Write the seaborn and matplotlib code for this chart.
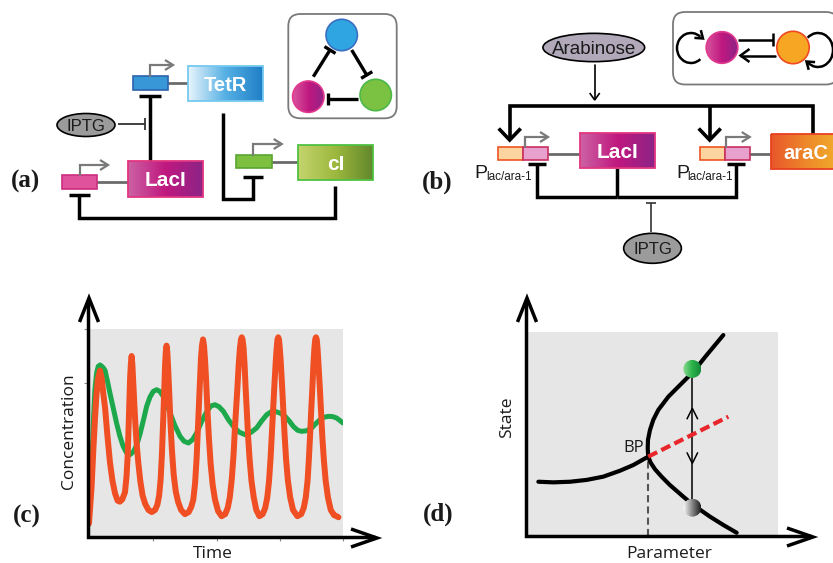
import numpy as np
import pandas as pd
import matplotlib
matplotlib.use("Agg")
import matplotlib.pyplot as plt
import seaborn as sns
from matplotlib.colors import LinearSegmentedColormap
from matplotlib.patches import Arc, Circle, Ellipse, FancyBboxPatch, Rectangle

# ---- panel (c): oscillations (time, concentration in % of the box) ----
time_red = [0.4, 1.4, 2.1, 2.7, 3.3, 3.9, 4.7, 5.4, 6.0, 6.7, 7.6, 8.6, 9.6, 10.6, 11.6,
            12.5, 13.4, 14.5, 15.1, 15.6, 15.9, 16.2, 16.5, 16.8, 17.1, 17.4, 17.7, 18.0,
            18.5, 19.0, 19.7, 20.5, 21.4, 22.4, 23.7, 25.0, 26.3, 27.2, 27.9, 28.5, 29.0,
            29.5, 29.9, 30.2, 30.5, 30.8, 31.1, 31.4, 31.8, 32.3, 32.9, 33.6, 34.4, 35.3,
            36.5, 38.0, 39.5, 40.5, 41.3, 42.0, 42.6, 43.1, 43.6, 44.0, 44.3, 44.7, 45.1,
            45.5, 45.9, 46.3, 46.8, 47.4, 48.1, 48.9, 49.8, 51.0, 52.4, 53.8, 54.8, 55.6,
            56.4, 57.1, 57.6, 58.1, 58.6, 59.1, 59.6, 60.0, 60.3, 60.6, 61.0, 61.4, 61.8,
            62.3, 62.8, 63.4, 64.1, 65.0, 66.0, 67.2, 68.5, 69.5, 70.3, 71.0, 71.6, 72.1,
            72.6, 73.1, 73.6, 74.0, 74.3, 74.6, 74.9, 75.2, 75.6, 76.1, 76.6, 77.1, 77.7,
            78.4, 79.3, 80.4, 82.1, 83.6, 84.6, 85.4, 86.1, 86.6, 87.1, 87.5, 88.0, 88.4,
            88.8, 89.1, 89.4, 89.7, 90.0, 90.4, 90.9, 91.4, 91.9, 92.5, 93.2, 94.1, 95.2,
            96.5, 97.5, 98.2]
conc_red = [6.6, 24, 42, 56, 68, 76, 80, 76, 69, 62, 49, 36, 27, 21, 17.5,
            17, 18, 21.5, 29, 40, 52, 64, 76, 83, 87, 83, 76, 68,
            56, 46, 36, 27, 20, 16, 13, 12, 13, 15.5, 20, 28, 40,
            56, 70, 82, 89, 92, 89, 82, 71, 56, 42, 30, 22, 17,
            13, 11, 12, 14.5, 18, 26, 38, 52, 66, 78, 86, 92, 95,
            92, 85, 76, 62, 48, 35, 25, 18, 12.5, 10, 11, 14, 19,
            28, 40, 52, 62, 72, 83, 91, 95, 96, 95, 91, 83, 72,
            60, 48, 37, 27, 19, 13, 10, 11, 14, 19, 27, 38, 50,
            62, 73, 84, 91, 95, 96, 95, 91, 84, 73, 61, 49, 37,
            27, 19, 13, 10, 11, 14, 19, 27, 37, 49, 60, 72, 83,
            91, 95, 96, 95, 91, 83, 72, 60, 48, 37, 27, 19, 13,
            10.5, 10, 9.5]
time_green = [0.2, 0.8, 1.3, 1.8, 2.2, 2.7, 3.4, 4.0, 4.7, 5.5, 6.2, 6.7, 7.6, 8.6, 9.9,
              11.2, 12.5, 13.8, 15.1, 16.5, 17.8, 19.1, 20.4, 21.7, 23.0, 24.3, 25.6, 26.9,
              28.2, 29.5, 30.8, 32.2, 34.1, 36.1, 37.7, 39.4, 41.0, 42.6, 44.6, 46.6, 48.2,
              49.8, 51.4, 53.1, 55.0, 57.0, 59.3, 61.6, 63.9, 66.1, 68.1, 70.1, 71.7, 73.3,
              75.3, 77.3, 78.9, 80.5, 82.2, 83.8, 85.8, 87.7, 89.4, 91.0, 92.6, 94.2, 95.9,
              97.5, 98.8, 100.0]
conc_green = [5.8, 20, 33, 43.4, 58, 70.7, 79, 82, 82.7, 82, 81, 80, 75, 69.2, 62,
              54.8, 48.5, 43.6, 40.5, 39.6, 41, 44.2, 49.5, 56, 62.8, 67.3, 70, 70.8,
              70, 67.6, 64, 59.6, 53.5, 48.4, 46, 45.2, 46.8, 50, 55.6, 60.4, 63,
              63.6, 62.6, 60.4, 56.5, 53.2, 50.4, 49.2, 50.3, 52.4, 55.8, 58.8, 60.1, 60.4,
              59.6, 58, 55.8, 53.2, 51.3, 50.8, 51.1, 52.4, 54.6, 56.4, 57.6, 58, 57.9,
              57.2, 56, 54.8]
time_ticks = [25.5, 50.6, 75.3, 100]
conc_ticks = [74, 100]

# ---- panel (d): bifurcation diagram ----
par_left = [4.9, 10.8, 17.5, 24.1, 30.7, 37.3, 42.6, 48.5]
state_left = [26.6, 26.3, 26.6, 27.5, 29.1, 32.0, 34.8, 38.9]
par_fold = [78.3, 71.7, 66.4, 61.1, 56.5, 52.5, 50.5, 49.2, 48.4, 48.3, 48.5,
            49.5, 51.2, 53.8, 57.1, 62.4, 66.4, 73.0, 78.3, 83.6]
state_fold = [98.5, 88.7, 80.5, 74.0, 68.3, 61.8, 56.9, 52.0, 47.1, 43.0, 38.9,
              35.9, 32.7, 29.1, 25.0, 19.3, 15.2, 9.5, 5.4, 1.6]
unstable_par = [48.5, 80.3]
unstable_state = [38.9, 58.5]
bp_par, bp_state = 48.5, 38.9
switch_par = 66.0
high_state, low_state = 81.9, 13.9
arrow_up_state, arrow_down_state = 62.6, 35.6

W, H = 833, 563
SANS = ["Liberation Sans", "DejaVu Sans"]
SERIF = ["Liberation Serif", "DejaVu Serif"]

sns.set_theme(style="white")
plt.rcParams["font.family"] = ["Open Sans", "DejaVu Sans"]

fig = plt.figure(figsize=(W / 100, H / 100), dpi=100)
ax_c = fig.add_axes([88 / W, 1 - 537 / H, 255 / W, 208 / H])
ax_d = fig.add_axes([526 / W, 1 - 536 / H, 252 / W, 204 / H])
dia = fig.add_axes([0, 0, 1, 1], zorder=5)
dia.patch.set_alpha(0)
dia.axis("off")


def to_px(ax, x, y):
    dx, dy = ax.transData.transform((x, y))
    return dx, H - dy


def chevron(ax, tip, direction, length, half, lw, color="black", z=6):
    dx, dy = direction
    n = np.hypot(dx, dy)
    dx, dy = dx / n, dy / n
    px, py = -dy, dx
    tx, ty = tip
    bx, by = tx - dx * length, ty - dy * length
    ax.plot([bx + px * half, tx, bx - px * half], [by + py * half, ty, by - py * half],
            color=color, lw=lw, solid_joinstyle="miter", solid_capstyle="butt", zorder=z)


def tline(ax, xs, ys, half, lw, color="black", z=3):
    ax.plot(xs, ys, color=color, lw=lw, solid_joinstyle="miter", solid_capstyle="butt", zorder=z)
    dx, dy = xs[-1] - xs[-2], ys[-1] - ys[-2]
    n = np.hypot(dx, dy)
    px, py = -dy / n, dx / n
    ax.plot([xs[-1] + px * half, xs[-1] - px * half], [ys[-1] + py * half, ys[-1] - py * half],
            color=color, lw=lw, solid_capstyle="butt", zorder=z)


def gradient(ax, clip, colors, extent, z):
    cmap = LinearSegmentedColormap.from_list("g", colors)
    im = ax.imshow(np.linspace(0, 1, 256)[None, :], cmap=cmap, extent=extent,
                   aspect="auto", interpolation="bilinear", zorder=z)
    im.set_clip_path(clip)


def gene_box(ax, x0, y0, x1, y1, colors, edge, label, fs=15, tx=None):
    rect = Rectangle((x0, y0), x1 - x0, y1 - y0, facecolor="none", edgecolor=edge, lw=1.3, zorder=4)
    ax.add_patch(rect)
    gradient(ax, rect, colors, (x0, x1, y1, y0), 3)
    ax.text((x0 + x1) / 2 if tx is None else tx, (y0 + y1) / 2, label, color="white",
            fontweight="bold", fontsize=fs, ha="center", va="center_baseline",
            family=SANS, zorder=5)


def grad_circle(ax, cx, cy, r, colors, edge, lw=1.2, z=5):
    circ = Circle((cx, cy), r, facecolor="none", edgecolor=edge, lw=lw, zorder=z + 0.2)
    ax.add_patch(circ)
    gradient(ax, circ, colors, (cx - r, cx + r, cy + r, cy - r), z)


def promoter(ax, x0, y0, x1, y1, face, edge):
    ax.add_patch(Rectangle((x0, y0), x1 - x0, y1 - y0, facecolor=face, edgecolor=edge, lw=1.2, zorder=4))


def bent(ax, x, ybase, ytop, xend, color="#7a7a7a"):
    ax.plot([x, x, xend - 1], [ybase, ytop, ytop], color=color, lw=1.6,
            solid_joinstyle="miter", zorder=4)
    chevron(ax, (xend, ytop), (1, 0), 8, 5, 1.6, color=color, z=4)


def link(ax, x0, x1, y):
    ax.plot([x0, x1], [y, y], color="#6b6b6b", lw=2.0, zorder=2)


def pill(ax, cx, cy, w, h, face, label, fs):
    ax.add_patch(Ellipse((cx, cy), w, h, facecolor=face, edgecolor="black", lw=1.2, zorder=4))
    ax.text(cx, cy, label, fontsize=fs, ha="center", va="center_baseline", color="#1a1a1a",
            family=SANS, zorder=5)


LACI = ["#cc62a4", "#c0187f", "#8c2487"]
PINK_BALL = ["#d8559e", "#c0187f", "#8c2487"]

# ---------------- panel (a) ----------------
promoter(dia, 61.7, 175, 97.3, 189, "#e0529b", "#cc2f80")
bent(dia, 80, 175, 165, 108)
link(dia, 97.3, 128.3, 181.7)
gene_box(dia, 128.3, 161, 203.3, 196.7, LACI, "#e2357f", "LacI")
tline(dia, [150, 150], [161, 96], 10.8, 2.5)

promoter(dia, 133.3, 76, 168.3, 90, "#3897d6", "#2b63ad")
bent(dia, 150, 76, 65, 173)
link(dia, 168.3, 188.3, 82.7)
gene_box(dia, 188.3, 65.7, 263.3, 101, ["#eaf5fc", "#56b0e4", "#1f7fc6"], "#74c9f0", "TetR", 14.5)

pill(dia, 86, 125, 58, 23, "#9b9b9b", "IPTG", 12)
tline(dia, [118.3, 145], [124, 124], 6, 1.3, color="#333333")

tline(dia, [223.3, 223.3, 253.3, 253.3], [112.7, 199.3, 199.3, 176.7], 10, 2.5)
promoter(dia, 236, 155, 271.7, 168.3, "#7dbf3f", "#5aa532")
bent(dia, 253.3, 155, 144, 281.7)
link(dia, 271.7, 298.3, 161.7)
gene_box(dia, 298.3, 145, 372.7, 180, ["#c5d46e", "#9cb83e", "#62882c"], "#4fc143", "cI")
tline(dia, [335, 335, 79.3, 79.3], [186, 218.3, 218.3, 195], 10.3, 2.5)

# inset (a): repressilator
dia.add_patch(FancyBboxPatch((288.3, 14), 108.4, 104.3, boxstyle="round,pad=0,rounding_size=12",
                             facecolor="white", edgecolor="#7a7a7a", lw=1.3, zorder=2))
dia.add_patch(Circle((341.7, 35), 15.7, facecolor="#2fa6e2", edgecolor="#3a6fc0", lw=1.2, zorder=5))
grad_circle(dia, 308.3, 96.7, 15.7, PINK_BALL, "#e2388e")
dia.add_patch(Circle((375.7, 95), 15.7, facecolor="#7cc242", edgecolor="#4db848", lw=1.2, zorder=5))
tline(dia, [313.3, 330], [76.7, 50], 6.5, 2.4)
tline(dia, [351.7, 366.7], [50, 75], 6.5, 2.4)
tline(dia, [358.3, 328.3], [99, 99], 6, 2.4)

# ---------------- panel (b) ----------------
pill(dia, 593.8, 47.5, 101.7, 28.3, "#b1a9ba", "Arabinose", 13.5)
dia.plot([594.7, 594.7], [65, 99], color="black", lw=1.2, zorder=4)
chevron(dia, (594.7, 100), (0, 1), 7, 5, 1.2)
dia.plot([509.7, 509.7, 813.3, 813.3], [138, 106, 106, 134], color="black", lw=2.6,
         solid_joinstyle="miter", solid_capstyle="butt", zorder=3)
dia.plot([709.7, 709.7], [106, 138], color="black", lw=2.6, solid_capstyle="butt", zorder=3)
chevron(dia, (509.7, 140), (0, 1), 11.5, 11, 2.6)
chevron(dia, (709.7, 140), (0, 1), 11.5, 11, 2.6)

for ox in (498, 699.7):
    promoter(dia, ox, 147, ox + 25, 160, "#fbd4a0", "#ee5522")
    promoter(dia, ox + 25, 147, ox + 50, 160, "#e8a0cc", "#c83060")
    bent(dia, ox + 26.7, 147, 137, ox + 50)
    dia.text(ox - 23.3, 178.3, "P", fontsize=14, va="baseline", ha="left", color="#1a1a1a",
             family=SANS, zorder=5)
    dia.text(ox - 12, 180.5, "lac/ara-1", fontsize=8.5, va="baseline", ha="left", color="#1a1a1a",
             family=SANS, zorder=5)
link(dia, 548, 579.7, 153.5)
gene_box(dia, 579.7, 133.3, 654.7, 168.3, LACI, "#e2357f", "LacI")
link(dia, 749.7, 771.3, 153.5)
gene_box(dia, 771.3, 134, 845, 169.3, ["#e8562a", "#ee8a2a", "#f2b52a"], "#e84020", "araC", 14.5, tx=806)

dia.plot([617, 617], [168.3, 196.7], color="black", lw=2.5, solid_capstyle="butt", zorder=3)
tline(dia, [617, 537, 537], [196.7, 196.7, 164], 9, 2.5)
tline(dia, [617, 735.7, 735.7], [196.7, 196.7, 164], 9, 2.5)

pill(dia, 652.5, 248.3, 57.7, 30, "#9b9b9b", "IPTG", 12)
tline(dia, [651.3, 651.3], [232, 203], 5, 1.2, color="#333333")

# inset (b): toggle with self-activation
dia.add_patch(FancyBboxPatch((673, 12), 165, 72.5, boxstyle="round,pad=0,rounding_size=12",
                             facecolor="white", edgecolor="#7a7a7a", lw=1.3, zorder=2))
grad_circle(dia, 722, 47.5, 15.8, PINK_BALL, "#e2388e")
dia.add_patch(Circle((793, 47.5), 16.2, facecolor="#f6a623", edgecolor="#ef4a23", lw=1.2, zorder=5))
tline(dia, [738.5, 773], [39.5, 39.5], 6.5, 1.8)
dia.plot([775, 741.5], [55.5, 55.5], color="black", lw=1.8, zorder=4)
chevron(dia, (740.5, 55.5), (-1, 0), 9, 6.5, 1.8)
dia.add_patch(Arc((691, 48), 28, 30, theta1=50, theta2=310, color="black", lw=1.8, zorder=4))
chevron(dia, (703, 38.5), (0.77, 0.64), 7, 5, 1.8)
dia.add_patch(Arc((818, 50), 30, 34, theta1=-130, theta2=130, color="black", lw=1.8, zorder=4))
chevron(dia, (806.5, 61.5), (-0.77, -0.64), 7, 5, 1.8)

# ---------------- panel (c) ----------------
osc = pd.concat([
    pd.DataFrame({"time": time_green, "conc": conc_green, "species": "green"}),
    pd.DataFrame({"time": time_red, "conc": conc_red, "species": "red"}),
], ignore_index=True)
sns.lineplot(data=osc, x="time", y="conc", hue="species", size="species",
             hue_order=["green", "red"], palette={"green": "#1ca84b", "red": "#f04e23"},
             sizes={"green": 3.6, "red": 4.3}, estimator=None, sort=False, legend=False, ax=ax_c)
for ln in ax_c.lines:
    ln.set_solid_capstyle("round")
    ln.set_solid_joinstyle("round")
ax_c.set_facecolor("#e6e6e6")
ax_c.set_xlim(0, 100)
ax_c.set_ylim(0, 100)
ax_c.set_xticks(time_ticks)
ax_c.set_yticks(conc_ticks)
ax_c.set_xticklabels([])
ax_c.set_yticklabels([])
ax_c.tick_params(bottom=True, left=True, length=3, width=0.8, color="#8a8a8a", direction="out")
ax_c.set_xlabel("Time", fontsize=12.5, color="#1a1a1a")
ax_c.set_ylabel("Concentration", fontsize=12.5, color="#1a1a1a")
ax_c.xaxis.set_label_coords(0.49, -0.045)
ax_c.yaxis.set_label_coords(-0.045, 0.51)
sns.despine(ax=ax_c, left=True, bottom=True)

# ---------------- panel (d) ----------------
bif = pd.concat([
    pd.DataFrame({"parameter": par_left, "state": state_left, "branch": "left"}),
    pd.DataFrame({"parameter": par_fold, "state": state_fold, "branch": "fold"}),
], ignore_index=True)
sns.lineplot(data=bif, x="parameter", y="state", units="branch", estimator=None, sort=False,
             color="black", linewidth=3.0, ax=ax_d)
for ln in ax_d.lines:
    ln.set_solid_joinstyle("round")
ax_d.plot(unstable_par, unstable_state, color="#e8262b", lw=3.0, linestyle=(0, (2.4, 1.1)),
          solid_capstyle="butt", zorder=4)
ax_d.plot([bp_par, bp_par], [0, bp_state], color="#555555", lw=1.5, linestyle=(0, (3.4, 2.0)), zorder=1)
ax_d.plot([switch_par, switch_par], [low_state, high_state], color="black", lw=1.1, zorder=2)
ax_d.text(bp_par - 5.9, bp_state + 4.1, "BP", fontsize=12, ha="center", va="center", color="#1a1a1a")
ax_d.set_facecolor("#e6e6e6")
ax_d.set_xlim(0, 100)
ax_d.set_ylim(0, 100)
ax_d.set_xticks([])
ax_d.set_yticks([])
ax_d.set_xlabel("Parameter", fontsize=12.5, color="#1a1a1a")
ax_d.set_ylabel("State", fontsize=12.5, color="#1a1a1a")
ax_d.xaxis.set_label_coords(0.57, -0.05)
ax_d.yaxis.set_label_coords(-0.045, 0.58)
sns.despine(ax=ax_d, left=True, bottom=True)

# balls and double arrow in pixel space
gx, gy = to_px(ax_d, switch_par, high_state)
grad_circle(dia, gx, gy, 9, ["#8fdc96", "#2db34a", "#138a3a"], "none", z=6)
lx, ly = to_px(ax_d, switch_par, low_state)
grad_circle(dia, lx, ly, 9, ["#ffffff", "#8a8a8a", "#1e1e1e"], "none", z=6)
ux, uy = to_px(ax_d, switch_par, arrow_up_state)
chevron(dia, (ux, uy), (0, -1), 11, 5.5, 1.1)
vx, vy = to_px(ax_d, switch_par, arrow_down_state)
chevron(dia, (vx, vy), (0, 1), 11, 5.5, 1.1)

# axis arrows for (c) and (d)
for ax in (ax_c, ax_d):
    ox, oy = to_px(ax, 0, 0)
    top = oy - (239 if ax is ax_c else 238)
    right = ox + (289 if ax is ax_c else 287)
    dia.plot([ox, ox, right - 2], [top + 2, oy, oy], color="black", lw=2.5,
             solid_joinstyle="miter", solid_capstyle="butt", zorder=6)
    chevron(dia, (ox + 1, top), (0, -1), 24, 9.5, 2.5)
    chevron(dia, (right, oy + 1), (1, 0), 26, 9, 2.5)

# panel labels
for lbl, x, y in [("(a)", 26, 181), ("(b)", 437, 182), ("(c)", 27, 516), ("(d)", 438, 514)]:
    dia.text(x, y, lbl, fontsize=18, fontweight="bold", family=SERIF, ha="center",
             va="center", color="#1a1a1a", zorder=6)

dia.set_aspect("auto")
dia.set_xlim(0, W)
dia.set_ylim(H, 0)

fig.savefig("out.png", dpi=100)
